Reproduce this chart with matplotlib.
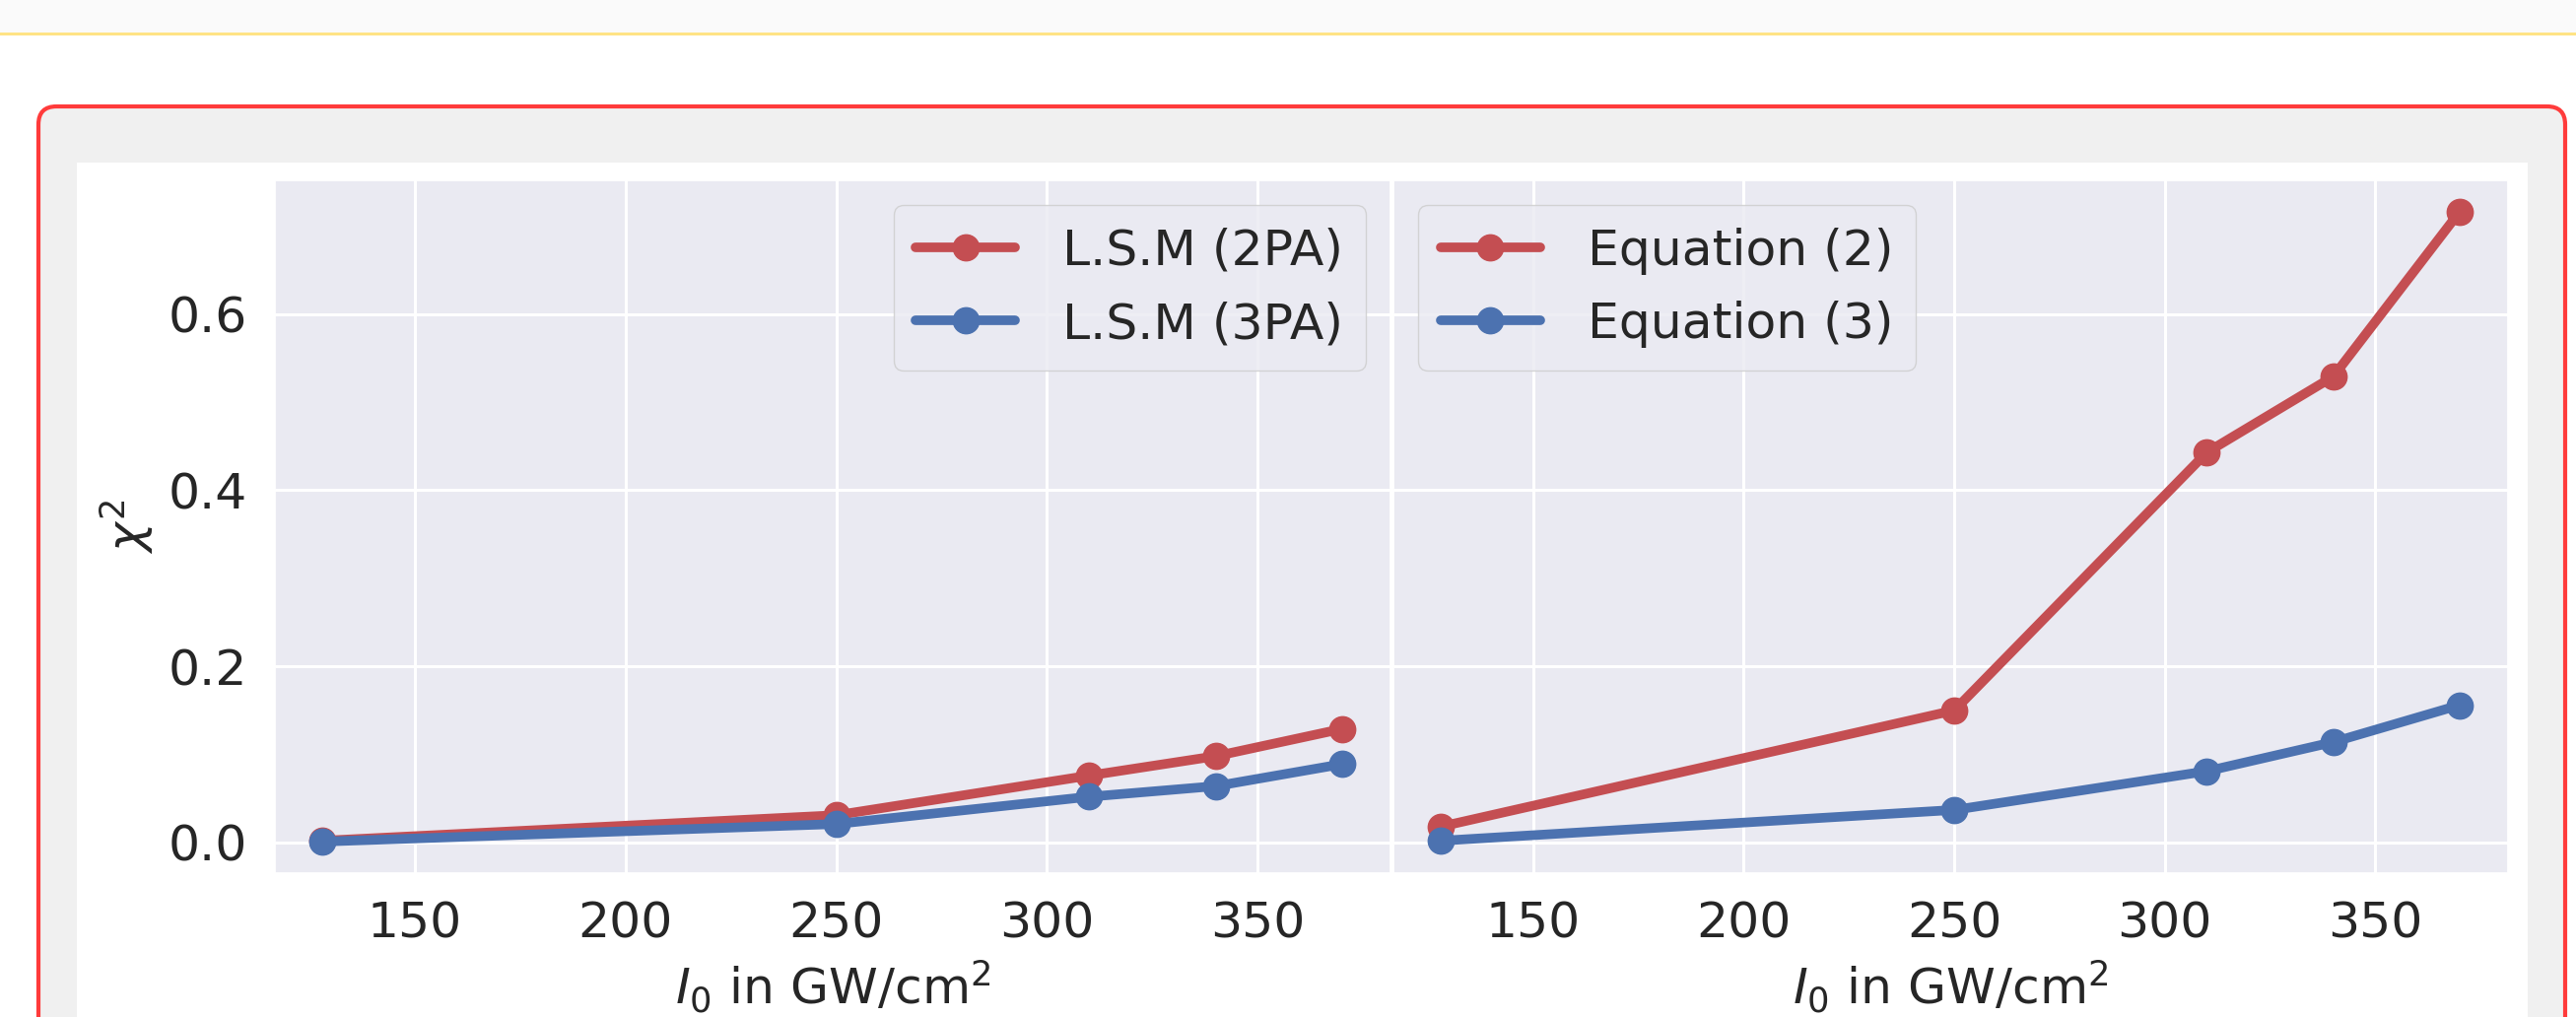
import matplotlib
matplotlib.use('Agg')
import matplotlib.pyplot as plt
from matplotlib.patches import Rectangle, FancyBboxPatch
import seaborn as sns

# data
intensity = [128, 250, 310, 340, 370]  # I0 in GW/cm^2
lsm_2pa = [0.002, 0.031, 0.076, 0.098, 0.129]
lsm_3pa = [0.001, 0.021, 0.052, 0.064, 0.089]
eq_2 = [0.018, 0.150, 0.443, 0.529, 0.716]
eq_3 = [0.002, 0.037, 0.081, 0.114, 0.156]

RED = '#C44E52'
BLUE = '#4C72B0'
W, H = 2614, 1032

sns.set_theme(style='darkgrid')
plt.rcParams['font.family'] = ['DejaVu Sans']

fig = plt.figure(figsize=(W / 100, H / 100), dpi=100)
fig.patch.set_facecolor('white')


def box(x0, y0, x1, y1):
    # pixel box (top-left origin) -> figure fraction rect
    return x0 / W, 1 - y1 / H, (x1 - x0) / W, (y1 - y0) / H


# page decoration around the chart (drawn behind the axes)
x, y, w, h = box(0, 0, W, 34)
fig.patches.append(Rectangle((x, y), w, h, transform=fig.transFigure, zorder=-5,
                             facecolor='#fafafa', edgecolor='none'))
x, y, w, h = box(0, 33, W, 36)
fig.patches.append(Rectangle((x, y), w, h, transform=fig.transFigure, zorder=-5,
                             facecolor='#ffe385', edgecolor='none'))
x, y, w, h = box(39, 108, 2603, 1200)
fig.patches.append(FancyBboxPatch((x, y), w, h, transform=fig.transFigure, zorder=-5,
                                  boxstyle='round,pad=0,rounding_size=0.007',
                                  mutation_aspect=W / H,
                                  facecolor='#f0f0f0', edgecolor='#ff3b3b', lw=3))
x, y, w, h = box(78, 165, 2565, 1200)
fig.patches.append(Rectangle((x, y), w, h, transform=fig.transFigure, zorder=-4,
                             facecolor='white', edgecolor='none'))

FS = 36.3
ax1 = fig.add_axes(box(279, 183, 1411, 886))
ax2 = fig.add_axes(box(1414, 183, 2545, 886), sharey=ax1)

ax1.plot(intensity, lsm_2pa, '-o', color=RED, lw=7, ms=19, label='L.S.M (2PA)')
ax1.plot(intensity, lsm_3pa, '-o', color=BLUE, lw=7, ms=19, label='L.S.M (3PA)')
ax2.plot(intensity, eq_2, '-o', color=RED, lw=7, ms=19, label='Equation (2)')
ax2.plot(intensity, eq_3, '-o', color=BLUE, lw=7, ms=19, label='Equation (3)')

for ax in (ax1, ax2):
    ax.set_xlim(116.8, 381.5)
    ax.set_xticks([150, 200, 250, 300, 350])
    ax.tick_params(labelsize=FS, pad=20, length=0)
    ax.set_xlabel('$I_0$ in GW/cm$^2$', fontsize=FS, labelpad=8, color='.15')
    ax.grid(True, color='white', lw=2.2)
ax1.set_yticks([0.0, 0.2, 0.4, 0.6])
ax1.set_ylabel('$\\chi^2$', fontsize=FS, labelpad=9, color='.15')
plt.setp(ax2.get_yticklabels(), visible=False)

leg_kw = dict(fontsize=FS, handletextpad=0.95, labelspacing=0.52, borderpad=0.45)
ax1.legend(loc='upper right', **leg_kw)
ax2.legend(loc='upper left', **leg_kw)

fig.savefig('out.png', dpi=100)
